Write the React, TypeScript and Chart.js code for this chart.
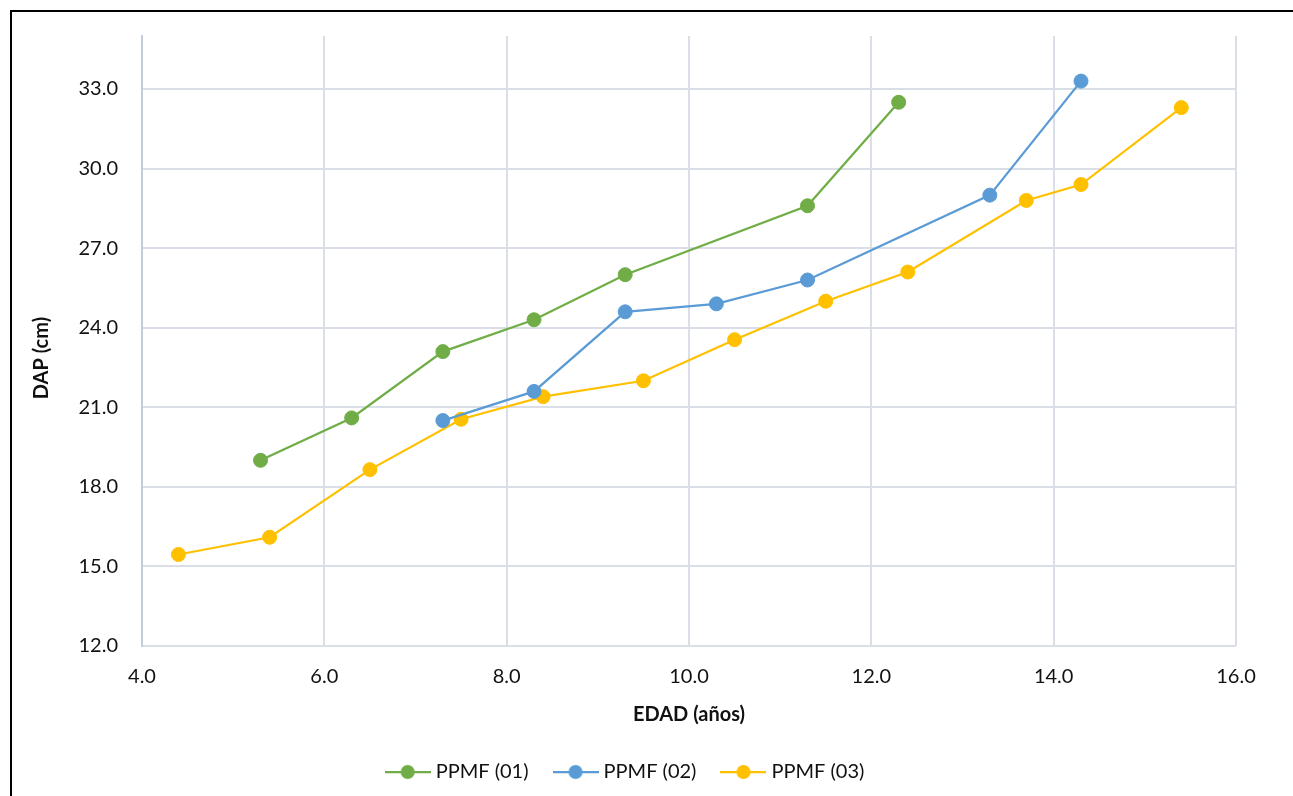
import React, { useEffect, useRef } from 'react';
import { Chart, registerables } from 'chart.js';

Chart.register(...registerables);

const seriesNames = ['PPMF (01)', 'PPMF (02)', 'PPMF (03)'];
const seriesColors = ['#70AD47', '#5B9BD5', '#FFC000'];

const edad01 = [5.3, 6.3, 7.3, 8.3, 9.3, 11.3, 12.3];
const dap01 = [19.0, 20.6, 23.1, 24.3, 26.0, 28.6, 32.5];

const edad02 = [7.3, 8.3, 9.3, 10.3, 11.3, 13.3, 14.3];
const dap02 = [20.5, 21.6, 24.6, 24.9, 25.8, 29.0, 33.3];

const edad03 = [4.4, 5.4, 6.5, 7.5, 8.4, 9.5, 10.5, 11.5, 12.4, 13.7, 14.3, 15.4];
const dap03 = [15.45, 16.1, 18.65, 20.55, 21.4, 22.0, 23.55, 25.0, 26.1, 28.8, 29.4, 32.3];

const xTickValues = [4, 6, 8, 10, 12, 14, 16];
const yTickValues = [12, 15, 18, 21, 24, 27, 30, 33];

const xTitle = 'EDAD (años)';
const yTitle = 'DAP (cm)';

const FONT = 'Lato, "Open Sans", sans-serif';

function makeIcon(color: string): HTMLCanvasElement {
  const c = document.createElement('canvas');
  c.width = 46;
  c.height = 16;
  const ctx = c.getContext('2d')!;
  ctx.strokeStyle = color;
  ctx.lineWidth = 2.25;
  ctx.beginPath();
  ctx.moveTo(0, 8);
  ctx.lineTo(46, 8);
  ctx.stroke();
  ctx.fillStyle = color;
  ctx.beginPath();
  ctx.arc(23, 8, 7, 0, Math.PI * 2);
  ctx.fill();
  return c;
}

export default function App() {
  const ref = useRef<HTMLCanvasElement | null>(null);

  useEffect(() => {
    if (!ref.current) return;
    const icons = seriesColors.map(makeIcon);
    const xs = [edad01, edad02, edad03];
    const ys = [dap01, dap02, dap03];

    const datasets = seriesNames.map((name, i) => ({
      label: name,
      data: xs[i].map((x, j) => ({ x, y: ys[i][j] })),
      showLine: true,
      borderColor: seriesColors[i],
      backgroundColor: seriesColors[i],
      borderWidth: 2.25,
      pointRadius: 7,
      pointBorderWidth: 1,
      pointBorderColor: seriesColors[i],
      pointBackgroundColor: seriesColors[i],
      tension: 0,
    }));

    const shiftLegend = {
      id: 'shiftLegend',
      afterLayout(chart: any) {
        if (chart.legend) {
          chart.legend.left -= 5;
          chart.legend.right -= 5;
        }
      },
    };

    const chart = new Chart(ref.current, {
      type: 'scatter',
      data: { datasets },
      plugins: [shiftLegend],
      options: {
        animation: false,
        responsive: false,
        layout: { padding: { top: 36, left: 28, right: 57, bottom: 4 } },
        plugins: {
          legend: {
            position: 'bottom',
            labels: {
              usePointStyle: true,
              pointStyleWidth: 36,
              padding: 29,
              color: '#111',
              font: { family: FONT, size: 20 },
              generateLabels: (ch: any) => {
                const items = (Chart.defaults.plugins.legend.labels as any).generateLabels(ch);
                return items.map((it: any, i: number) => ({ ...it, pointStyle: icons[i] }));
              },
            },
          },
          tooltip: { enabled: false },
        },
        scales: {
          x: {
            type: 'linear',
            min: 4,
            max: 16,
            afterBuildTicks: (s: any) => {
              s.ticks = xTickValues.map((v) => ({ value: v }));
            },
            afterFit: (s: any) => {
              s.height = 87;
            },
            ticks: {
              padding: 19,
              color: '#111',
              font: { family: FONT, size: 20 },
              callback: (v: any) => Number(v).toFixed(1),
            },
            grid: { color: '#D9DEE7', lineWidth: 2, drawTicks: false },
            border: { display: false },
            title: {
              display: true,
              text: xTitle,
              color: '#111',
              font: { family: FONT, size: 20, weight: 'bold' },
              padding: { top: 0, bottom: 6 },
            },
          },
          y: {
            type: 'linear',
            min: 12,
            max: 35,
            afterBuildTicks: (s: any) => {
              s.ticks = yTickValues.map((v) => ({ value: v }));
            },
            afterFit: (s: any) => {
              s.width = 114;
            },
            ticks: {
              padding: 24,
              color: '#111',
              font: { family: FONT, size: 20 },
              callback: (v: any) => Number(v).toFixed(1),
            },
            grid: { color: '#D9DEE7', lineWidth: 2, drawTicks: false },
            border: { display: true, color: '#C3CCDA', width: 2 },
            title: {
              display: true,
              text: yTitle + '       ',
              color: '#111',
              font: { family: FONT, size: 20, weight: 'bold' },
              padding: { top: 2, bottom: 0 },
            },
          },
        },
      } as any,
    });
    return () => chart.destroy();
  }, []);

  return (
    <div>
      <div
        style={{
          position: 'fixed',
          left: 10,
          top: 10,
          width: 1400,
          height: 900,
          border: '2px solid #000',
          background: '#fff',
        }}
      />
      <canvas
        ref={ref}
        width={1293}
        height={796}
        style={{ position: 'fixed', left: 0, top: 0, width: 1293, height: 796 }}
      />
    </div>
  );
}
